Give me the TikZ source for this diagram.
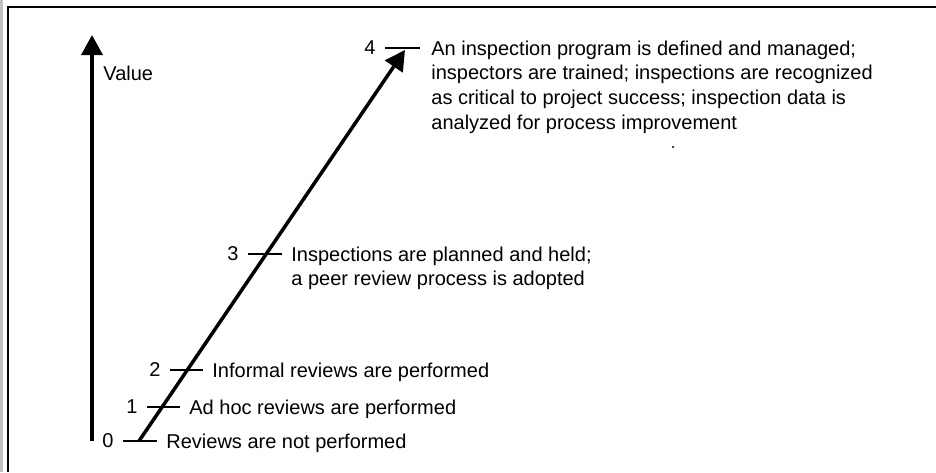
\documentclass[tikz,border=0pt]{standalone}
\usepackage{fontspec}
\setmainfont{Liberation Sans}
\usetikzlibrary{arrows.meta,positioning}

\begin{document}
\begin{tikzpicture}[x=0.5pt,y=-0.5pt,font=\fontsize{10}{12.3}\selectfont]
%styles : axes, graduations et textes des niveaux
\tikzset{axe/.style={line width=1.75pt,-{Triangle[length=10pt,width=10.5pt]}},
graduation/.style={line width=1pt},
chiffre/.style={inner sep=0pt},
niveau/.style={inner sep=0pt,align=left}}
\useasboundingbox (0,0) rectangle (936,472);
%cadre (bord du scan)
\draw[gray!50,line width=1.5pt] (1.5,0) -- (1.5,472);
\draw[line width=1pt] (8,472) -- (8,7) -- (936,7);

%axe vertical
\coordinate (bas) at (92,441);
\coordinate (haut) at (92,35);
\draw[axe] (bas) -- (haut);
\node[inner sep=0pt,anchor=west] (valeur) at (103,73) {Value};

%fleche oblique
\coordinate (depart) at (139,441);
\coordinate (arrivee) at (405,50);
\draw[axe] (depart) -- (arrivee);

%graduations 0 a 4
\foreach \n/\xa/\xb/\y in {0/123/157/441,1/147/180/407,2/170/203/370,3/248/282/254,4/385/420/48}{
\coordinate (g\n a) at (\xa,\y);
\coordinate (g\n b) at (\xb,\y);
\draw[graduation] (g\n a) -- (g\n b);
\node[chiffre,left=4.5pt of g\n a] (c\n) {\n};
}

%textes : premiere ligne au niveau de la graduation
\node[niveau,right=4.5pt of g0b,anchor=north west,yshift=3.8pt] (n0) {Reviews are not performed};
\node[niveau,right=4.5pt of g1b,anchor=north west,yshift=3.8pt] (n1) {Ad hoc reviews are performed};
\node[niveau,right=4.5pt of g2b,anchor=north west,yshift=3.8pt] (n2) {Informal reviews are performed};
\node[niveau,right=4.5pt of g3b,anchor=north west,yshift=3.8pt] (n3) {Inspections are planned and held;\\a peer review process is adopted};
\node[niveau,right=5.5pt of g4b,anchor=north west,yshift=3.8pt] (n4) {An inspection program is defined and managed;\\inspectors are trained; inspections are recognized\\as critical to project success; inspection data is\\analyzed for process improvement};

\fill (673,147) circle (1.2);
\end{tikzpicture}
\end{document}
